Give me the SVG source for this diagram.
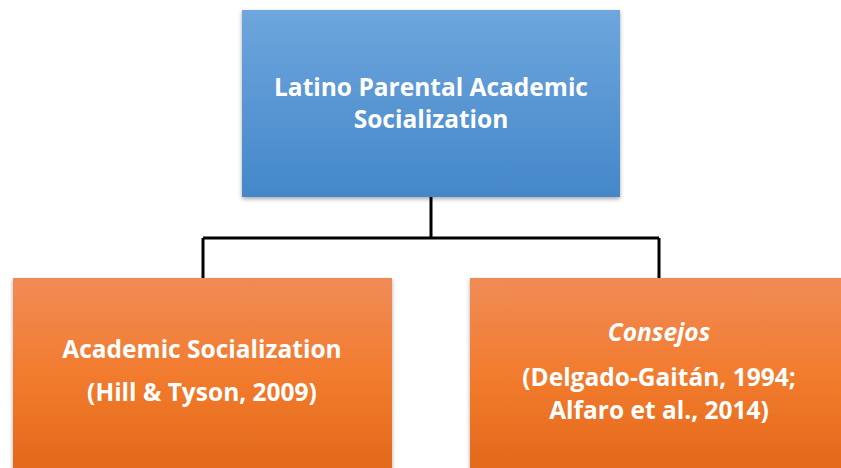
<svg xmlns="http://www.w3.org/2000/svg" width="841" height="468" viewBox="0 0 841 468">
<defs>
<linearGradient id="gBlue" x1="0" y1="0" x2="0" y2="1">
<stop offset="0" stop-color="#6EA6DD"/>
<stop offset="1" stop-color="#4487C9"/>
</linearGradient>
<linearGradient id="gOrange" x1="0" y1="0" x2="0" y2="1">
<stop offset="0" stop-color="#F08B57"/>
<stop offset="0.5" stop-color="#F27B2E"/>
<stop offset="1" stop-color="#E3681A"/>
</linearGradient>
<filter id="sh" x="-5%" y="-5%" width="110%" height="115%">
<feGaussianBlur in="SourceAlpha" stdDeviation="2"/>
<feOffset dx="0" dy="2" result="b"/>
<feComponentTransfer><feFuncA type="linear" slope="0.35"/></feComponentTransfer>
<feMerge><feMergeNode/><feMergeNode in="SourceGraphic"/></feMerge>
</filter>
</defs>
<style>
.t{font-family:"Open Sans","Liberation Sans",sans-serif;font-weight:bold;fill:#fff;text-anchor:middle;font-size:24.5px}
.c{fill:none;stroke:#000;stroke-width:3}
</style>
<rect width="841" height="468" fill="#fff"/>
<g id="connectors">
<path class="c" d="M431 197V238M203 238H659M203 238V279M659 238V279"/>
</g>
<g id="top">
<rect x="242" y="10" width="378" height="187" fill="url(#gBlue)" filter="url(#sh)"/>
<text class="t" x="431" y="96">Latino Parental Academic</text>
<text class="t" x="431" y="128">Socialization</text>
</g>
<g id="left">
<rect x="13" y="278" width="379" height="195" fill="url(#gOrange)" filter="url(#sh)"/>
<text class="t" x="202" y="358">Academic Socialization</text>
<text class="t" x="202" y="401">(Hill &amp; Tyson, 2009)</text>
</g>
<g id="right">
<rect x="470" y="278" width="376" height="195" fill="url(#gOrange)" filter="url(#sh)"/>
<text class="t" x="659" y="341" font-style="italic">Consejos</text>
<text class="t" x="659" y="386">(Delgado-Gaitán, 1994;</text>
<text class="t" x="659" y="419">Alfaro et al., 2014)</text>
</g>
</svg>
